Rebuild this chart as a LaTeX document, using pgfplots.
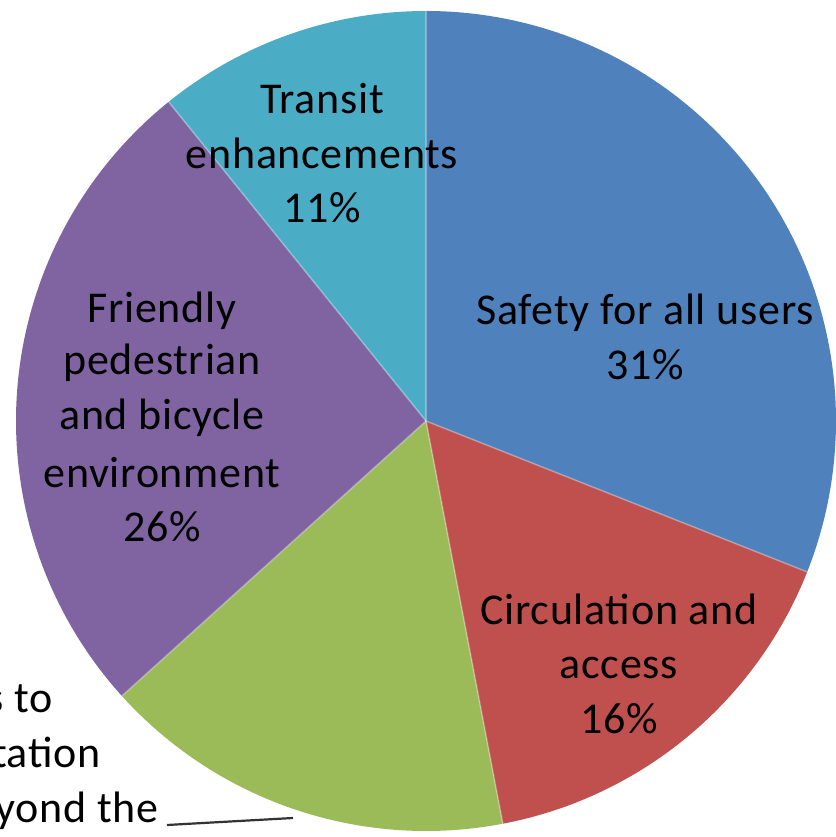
\documentclass[border=0pt]{standalone}
\usepackage{fontspec}
\setmainfont{Carlito}[LetterSpace=1.6]
\usepackage{pgfplots}
\pgfplotsset{compat=1.18}
\definecolor{cSafe}{HTML}{4F81BD}
\definecolor{cCirc}{HTML}{C0504D}
\definecolor{cConn}{HTML}{9BBB59}
\definecolor{cFrie}{HTML}{8064A2}
\definecolor{cTran}{HTML}{4BACC6}
\begin{document}
\begin{tikzpicture}
\begin{axis}[name=ax, x=0.5pt, y=0.5pt, xmin=0, xmax=836, ymin=0, ymax=837,
  hide axis, clip=false, enlargelimits=false]
% shares (percent), clockwise from 12 o'clock:
% Safety 31.0, Circulation 16.0, Connections 16.3, Friendly 25.9, Transit 10.8
\fill[cSafe] (axis cs:426,416) -- ++(90:205pt) arc[start angle=90, end angle={90-3.6*31.0}, radius=205pt] -- cycle;
\fill[cCirc] (axis cs:426,416) -- ++({90-3.6*31.0}:205pt) arc[start angle={90-3.6*31.0}, end angle={90-3.6*47.0}, radius=205pt] -- cycle;
\fill[cConn] (axis cs:426,416) -- ++({90-3.6*47.0}:205pt) arc[start angle={90-3.6*47.0}, end angle={90-3.6*63.3}, radius=205pt] -- cycle;
\fill[cFrie] (axis cs:426,416) -- ++({90-3.6*63.3}:205pt) arc[start angle={90-3.6*63.3}, end angle={90-3.6*89.2}, radius=205pt] -- cycle;
\fill[cTran] (axis cs:426,416) -- ++({90-3.6*89.2}:205pt) arc[start angle={90-3.6*89.2}, end angle={90-3.6*100}, radius=205pt] -- cycle;
\pgfplotsinvokeforeach{0,31.0,47.0,63.3,89.2}{
  \draw[white, opacity=0.3, line width=0.8pt] (axis cs:426,416) -- ++({90-3.6*#1}:205pt);
}
\tikzset{lab/.style={anchor=base, inner sep=0pt, font=\fontsize{22}{27}\selectfont, text=black}}
% Safety
\node[lab] at (axis cs:645,512) {Safety for all users};
\node[lab] at (axis cs:645,457) {31\%};
% Circulation
\node[lab] at (axis cs:619,212) {Circulation and};
\node[lab] at (axis cs:619,158) {access};
\node[lab] at (axis cs:619,104) {16\%};
% Friendly
\node[lab] at (axis cs:162,514) {Friendly};
\node[lab] at (axis cs:162,462) {pedestrian};
\node[lab] at (axis cs:162,407) {and bicycle};
\node[lab] at (axis cs:162,349) {environment};
\node[lab] at (axis cs:162,295) {26\%};
% Transit
\node[lab] at (axis cs:322,723) {Transit};
\node[lab] at (axis cs:322,668) {enhancements};
\node[lab] at (axis cs:322,614) {11\%};
% Connections (label cut off at the left edge, as in the reference)
\node[lab, anchor=base east] at (axis cs:53,124) {s to};
\node[lab, anchor=base east] at (axis cs:101,69) {tation};
\node[lab, anchor=base east] at (axis cs:159,15) {yond the};
\draw[black!80, line width=1.1pt] (axis cs:167,12) -- (axis cs:293,19);
\end{axis}
\pgfresetboundingbox
\path (ax.south west) rectangle (ax.north east);
\end{tikzpicture}
\end{document}
